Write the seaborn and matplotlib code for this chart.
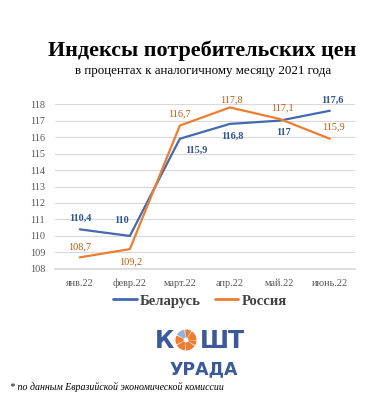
import matplotlib.pyplot as plt
import matplotlib.patches as mpatches
import seaborn as sns
import pandas as pd
import numpy as np

# данные: индексы потребительских цен, % к аналогичному месяцу 2021
months = ['янв.22', 'февр.22', 'март.22', 'апр.22', 'май.22', 'июнь.22']
belarus = [110.4, 110, 115.9, 116.8, 117, 117.6]
russia = [108.7, 109.2, 116.7, 117.8, 117.1, 115.9]
labels_by = ['110,4', '110', '115,9', '116,8', '117', '117,6']
labels_ru = ['108,7', '109,2', '116,7', '117,8', '117,1', '115,9']

df = pd.DataFrame({
    'x': list(range(len(months))) * 2,
    'value': belarus + russia,
    'country': ['Беларусь'] * 6 + ['Россия'] * 6,
})

blue = '#4369b0'
orange = '#ed7d31'

sns.set_theme(style='white')
plt.rcParams['font.family'] = ['Liberation Serif', 'DejaVu Serif']

fig = plt.figure(figsize=(3.92, 3.96), dpi=100)
ax = fig.add_axes([0.140, 0.321, 0.765, 0.416])

sns.lineplot(data=df, x='x', y='value', hue='country',
             palette=[blue, orange], linewidth=1.6, ax=ax, legend=False)

ax.set_xlim(-0.5, 5.5)
ax.set_ylim(108, 118)
ax.set_yticks(np.arange(108, 119, 1))
ax.set_xticks(range(len(months)))
ax.set_xticklabels(months)
ax.grid(axis='y', color='#d9d9d9', linewidth=0.8)
for s in ['top', 'right', 'left']:
    ax.spines[s].set_visible(False)
ax.spines['bottom'].set_color('#d9d9d9')
ax.tick_params(axis='both', length=0, labelsize=7.4, colors='#595959', pad=7)
ax.set_xlabel('')
ax.set_ylabel('')

# подписи значений (смещения в пикселях)
off_by = [(0, 11), (-8, 15), (17, -12), (3, -12), (4, -12), (3, 10)]
off_ru = [(0, 11), (1, -13), (0, 12), (2, 8), (3, 11), (4, 12)]
for i in range(len(months)):
    ax.annotate(labels_by[i], (i, belarus[i]), xytext=off_by[i],
                textcoords='offset pixels', ha='center', va='center',
                fontsize=7.4, color='#2f5597', fontweight='bold')
    ax.annotate(labels_ru[i], (i, russia[i]), xytext=off_ru[i],
                textcoords='offset pixels', ha='center', va='center',
                fontsize=7.4, color='#c55a11')

# заголовки
fig.text(0.517, 0.873, 'Индексы потребительских цен', ha='center', va='center',
         fontsize=15.8, fontweight='bold', color='black')
fig.text(0.519, 0.820, 'в процентах к аналогичному месяцу 2021 года', ha='center',
         va='center', fontsize=9.4, color='black')

# легенда
handles = [plt.Line2D([], [], color=blue, linewidth=2),
           plt.Line2D([], [], color=orange, linewidth=2)]
fig.legend(handles, ['Беларусь', 'Россия'], loc='center',
           bbox_to_anchor=(0.51, 0.24), ncol=2, frameon=False,
           prop={'size': 10.5, 'weight': 'bold'}, labelcolor='#404040',
           handlelength=1.6, handletextpad=0.2, columnspacing=1.0)

# логотип
ov = fig.add_axes([0, 0, 1, 1])
ov.set_xlim(0, 392)
ov.set_ylim(396, 0)
ov.axis('off')
logo_blue = '#3b5a9a'
ov.text(165, 341, 'К', ha='center', va='center', fontsize=17, fontweight='bold',
        color=logo_blue, family='DejaVu Sans')
ov.text(222, 341, 'ШТ', ha='center', va='center', fontsize=17, fontweight='bold',
        color=logo_blue, family='DejaVu Sans')
for a1, a2, c in [(0, 55, orange), (60, 95, orange), (100, 150, '#8fb4e3'),
                  (155, 205, orange), (210, 265, orange), (270, 325, orange),
                  (330, 357, orange)]:
    ov.add_patch(mpatches.Wedge((186, 340), 10.5, -a2, -a1, color=c, lw=0))
ov.add_patch(mpatches.Circle((186, 340), 2.5, color='white', lw=0))
ov.text(204, 369, 'УРАДА', ha='center', va='center', fontsize=12.5,
        fontweight='bold', color=logo_blue, family='DejaVu Sans')

# сноска
fig.text(0.025, 0.023, '* по данным Евразийской экономической комиссии',
         ha='left', va='center', fontsize=7.1, style='italic', color='black')

fig.savefig('out.png', dpi=100)
